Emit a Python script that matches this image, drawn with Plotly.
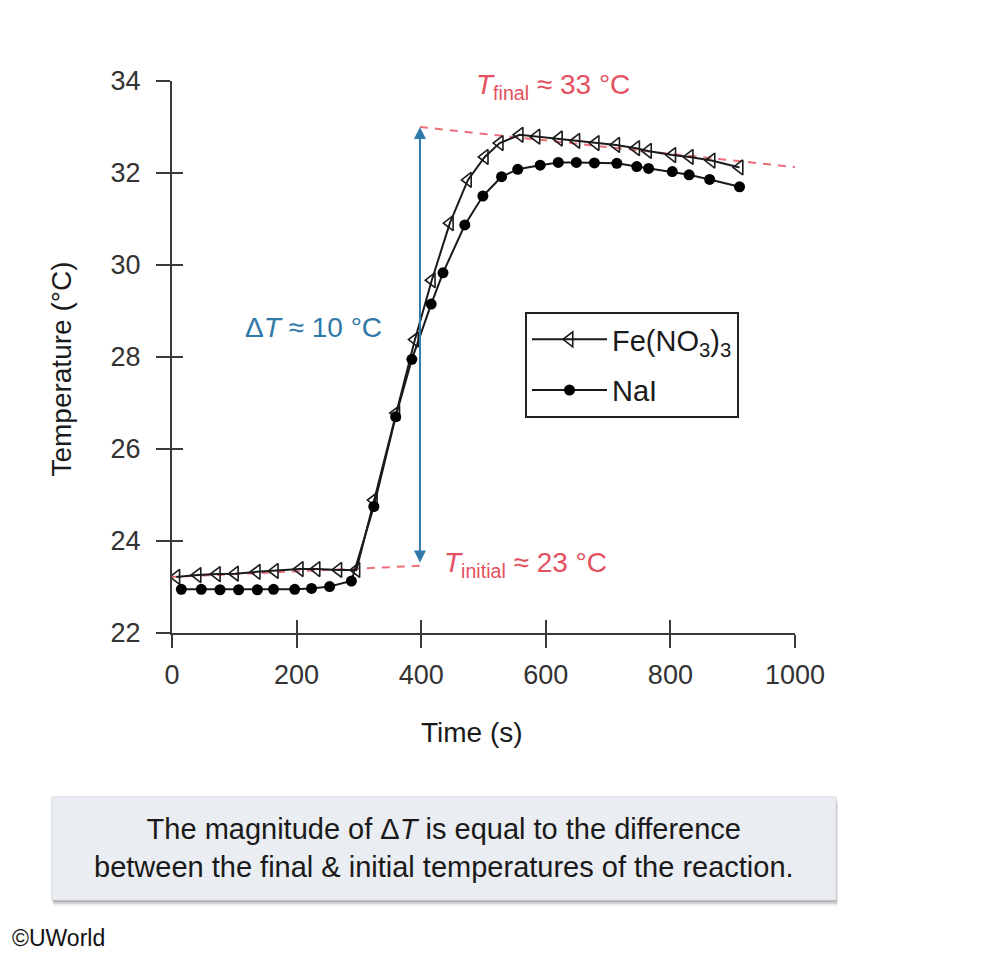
import plotly.graph_objects as go

# data
time_nai = [15, 47, 77, 107, 137, 163, 197, 224, 253, 288, 324, 359, 385, 416, 435,
            470, 499, 529, 555, 591, 620, 649, 678, 714, 746, 765, 803, 830, 863, 911]
temp_nai = [22.95, 22.95, 22.94, 22.94, 22.94, 22.95, 22.95, 22.97, 23.01, 23.13,
            24.75, 26.70, 27.95, 29.15, 29.83, 30.87, 31.50, 31.92, 32.08, 32.17,
            32.23, 32.23, 32.22, 32.21, 32.14, 32.10, 32.03, 31.96, 31.86, 31.70]

time_fe = [7, 41, 72, 101, 136, 165, 205, 232, 267, 296, 324, 360, 390, 417, 446,
           475, 502, 526, 558, 585, 621, 649, 680, 713, 745, 764, 803, 831, 866, 911]
temp_fe = [23.22, 23.26, 23.28, 23.29, 23.33, 23.35, 23.39, 23.39, 23.37, 23.37,
           24.89, 26.78, 28.38, 29.67, 30.91, 31.85, 32.35, 32.65, 32.83, 32.79,
           32.75, 32.70, 32.65, 32.61, 32.54, 32.48, 32.39, 32.35, 32.27, 32.12]

# extrapolated baselines
init_x = [0, 398]
init_y = [23.22, 23.46]
final_x = [398, 1040]
final_y = [33.0, 32.07]
arrow_t = 398

x_ticks = [0, 200, 400, 600, 800, 1000]
y_ticks = [22, 24, 26, 28, 30, 32, 34]

FONT = "Liberation Sans, Arial, Helvetica, sans-serif"
RED = "#e4505e"
RED_LINE = "#ea6f7b"
BLUE = "#2f78a8"
AX = "#3a3a3a"
TXT = "#1a1a1a"

fig = go.Figure()

fig.add_trace(go.Scatter(x=init_x, y=init_y, mode="lines", showlegend=False,
                         line=dict(color=RED_LINE, width=2, dash="8px,7px"), hoverinfo="skip"))
fig.add_trace(go.Scatter(x=final_x, y=final_y, mode="lines", showlegend=False, cliponaxis=False,
                         line=dict(color=RED_LINE, width=2, dash="8px,7px"), hoverinfo="skip"))

fig.add_trace(go.Scatter(
    x=time_fe, y=temp_fe, mode="lines+markers", name="Fe(NO<sub>3</sub>)<sub>3</sub>",
    legendgroup="fe",
    line=dict(color=TXT, width=2),
    marker=dict(symbol="triangle-left-open", size=13, color=TXT, line=dict(width=1.6)),
))
fig.add_trace(go.Scatter(
    x=time_nai, y=temp_nai, mode="lines+markers", name="NaI",
    legendgroup="nai",
    line=dict(color=TXT, width=2),
    marker=dict(symbol="circle", size=11, color="#000000"),
))

# overlay axes give the inner half of the crossing ticks
fig.add_trace(go.Scatter(x=[None], y=[None], xaxis="x2", yaxis="y2", showlegend=False))

# double arrow for delta T
fig.add_annotation(x=arrow_t, y=final_y[0], ax=arrow_t, ay=23.5, xref="x", yref="y",
                   axref="x", ayref="y", text="", showarrow=True, arrowside="end+start",
                   arrowhead=2, arrowsize=1.2, arrowwidth=2, arrowcolor=BLUE)

fig.add_annotation(x=341, y=28.65, xref="x", yref="y", xanchor="right", yanchor="middle",
                   showarrow=False, text="Δ<i>T</i> ≈ 10 °C",
                   font=dict(size=28, color=BLUE, family=FONT))
fig.add_annotation(x=611, y=33.87, xref="x", yref="y", xanchor="center", yanchor="middle",
                   showarrow=False, text="<i>T</i><sub>final</sub> ≈ 33 °C",
                   font=dict(size=28, color=RED, family=FONT))
fig.add_annotation(x=434, y=23.5, xref="x", yref="y", xanchor="left", yanchor="middle",
                   showarrow=False, text="<i>T</i><sub>initial</sub> ≈ 23 °C",
                   font=dict(size=28, color=RED, family=FONT))

# axis titles
fig.add_annotation(x=0.4815, y=-0.181, xref="paper", yref="paper", showarrow=False,
                   xanchor="center", yanchor="middle", text="Time (s)",
                   font=dict(size=28, color=TXT, family=FONT))
fig.add_annotation(x=-0.1766, y=0.479, xref="paper", yref="paper", showarrow=False,
                   xanchor="center", yanchor="middle", textangle=-90, text="Temperature (°C)",
                   font=dict(size=28, color=TXT, family=FONT))

# caption box with a soft shadow
for off, op in [(6, 0.10), (4, 0.18), (2, 0.30)]:
    fig.add_shape(type="rect", xref="paper", yref="paper",
                  x0=-0.193 + off / 623 * 0.3, x1=1.066 + off / 623 * 0.3,
                  y0=-0.4837 - off / 552, y1=-0.297 - off / 552,
                  fillcolor="#555555", opacity=op, line=dict(width=0), layer="below")
fig.add_shape(type="rect", xref="paper", yref="paper", x0=-0.193, x1=1.066, y0=-0.4837, y1=-0.297,
              fillcolor="#eaedf1", line=dict(color="#d6dae0", width=1), layer="below")
fig.add_annotation(x=0.4366, y=-0.3895, xref="paper", yref="paper", showarrow=False,
                   xanchor="center", yanchor="middle",
                   text="The magnitude of Δ<i>T</i> is equal to the difference<br>"
                        "between the final & initial temperatures of the reaction.",
                   font=dict(size=29, color=TXT, family=FONT), align="center")
fig.add_annotation(x=-0.26, y=-0.5525, xref="paper", yref="paper", xanchor="left",
                   yanchor="middle", showarrow=False, text="©UWorld",
                   font=dict(size=23, color="#111111", family=FONT))

axis_common = dict(showgrid=False, zeroline=False, tickcolor=AX, tickwidth=2)

fig.update_layout(
    width=984, height=948,
    margin=dict(l=164, r=197, t=73, b=323),
    paper_bgcolor="white", plot_bgcolor="white",
    font=dict(family=FONT, size=27, color="#333333"),
    xaxis=dict(range=[0, 1000], tickvals=x_ticks, ticks="outside", ticklen=13,
               showline=True, linecolor=AX, linewidth=2, ticklabelstandoff=4,
               **axis_common),
    yaxis=dict(range=[22, 34], tickvals=y_ticks, ticks="outside", ticklen=14,
               showline=True, linecolor=AX, linewidth=2, ticklabelstandoff=10,
               **axis_common),
    xaxis2=dict(range=[0, 1000], tickvals=x_ticks, ticks="inside", ticklen=13, overlaying="x",
                anchor="y", showticklabels=False, showline=False, **axis_common),
    yaxis2=dict(range=[22, 34], tickvals=y_ticks, ticks="inside", ticklen=11, overlaying="y",
                anchor="x", showticklabels=False, showline=False, **axis_common),
    legend=dict(x=0.5666, y=0.5815, xanchor="left", yanchor="top",
                bordercolor="#222222", borderwidth=2, bgcolor="white",
                font=dict(size=29, color=TXT), tracegroupgap=10,
                itemwidth=75),
    showlegend=True,
)

fig.write_html("out.html")
